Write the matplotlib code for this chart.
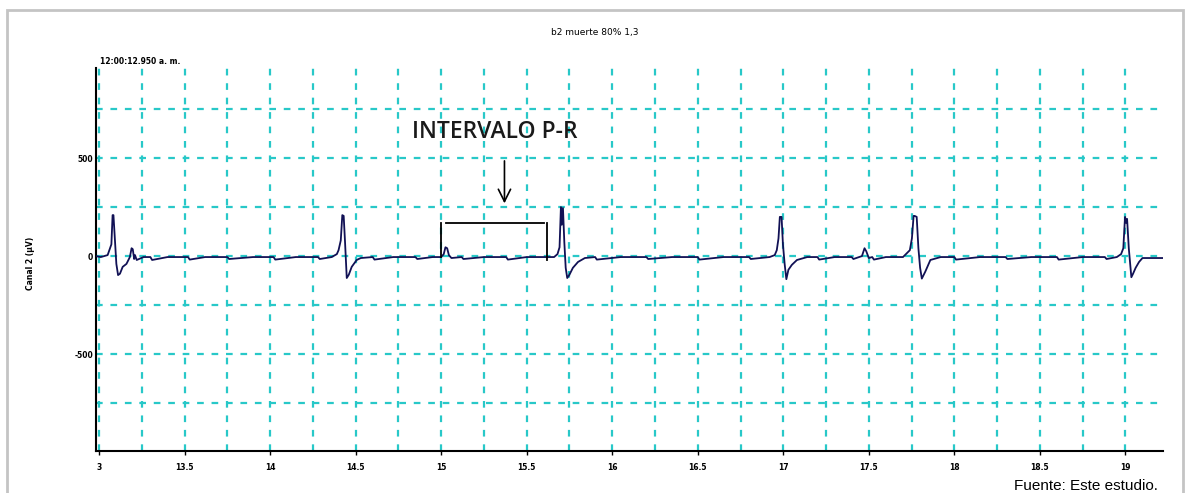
import numpy as np
import matplotlib
matplotlib.use("Agg")
import matplotlib.pyplot as plt
from matplotlib.patches import Rectangle

# ECG trace (time s, microvolts)
t = [12.98, 13.01, 13.03, 13.05, 13.06, 13.072, 13.079, 13.084, 13.092, 13.101,
     13.111, 13.122, 13.138, 13.16, 13.18, 13.19, 13.197, 13.205, 13.21, 13.22,
     13.26, 13.30, 13.31, 13.40, 13.52, 13.53, 13.62, 13.75, 13.76, 13.90, 14.02,
     14.03, 14.15, 14.28, 14.29, 14.36, 14.39, 14.40, 14.413, 14.422, 14.43, 14.438,
     14.448, 14.46, 14.477, 14.506, 14.53, 14.60, 14.61, 14.72, 14.85, 14.86, 14.95,
     15.00, 15.015, 15.025, 15.035, 15.045, 15.06, 15.12, 15.13, 15.25, 15.38, 15.39,
     15.50, 15.62, 15.66, 15.68, 15.692, 15.70, 15.705, 15.712, 15.72, 15.728, 15.737,
     15.75, 15.77, 15.80, 15.84, 15.90, 15.91, 16.05, 16.20, 16.21, 16.35, 16.50,
     16.51, 16.65, 16.80, 16.81, 16.92, 16.95, 16.962, 16.972, 16.98, 16.99, 16.998,
     17.008, 17.018, 17.03, 17.05, 17.08, 17.14, 17.20, 17.21, 17.30, 17.40, 17.41,
     17.46, 17.475, 17.485, 17.50, 17.52, 17.53, 17.60, 17.70, 17.74, 17.752, 17.762,
     17.768, 17.78, 17.79, 17.80, 17.81, 17.83, 17.86, 17.92, 18.00, 18.01, 18.15,
     18.30, 18.31, 18.45, 18.60, 18.61, 18.75, 18.88, 18.89, 18.95, 18.975, 18.988,
     18.998, 19.004, 19.01, 19.02, 19.035, 19.045, 19.06, 19.08, 19.10, 19.15, 19.22]
uv = [0, -5, 0, 5, 30, 60, 209, 209, 90, -40,
      -97, -90, -55, -40, -5, 40, 35, -15, 5, -20,
      -5, -5, -20, -5, -5, -18, -5, -5, -15, -5, -5,
      -18, -5, -5, -15, -5, 10, 30, 80, 209, 205, 70,
      -112, -95, -55, -20, -10, -5, -18, -5, -5, -15, -5,
      -5, 10, 45, 40, 5, -10, -5, -15, -5, -5, -18,
      -5, -5, -5, 10, 45, 250, 160, 245, 70, -60, -112,
      -95, -60, -30, -10, -5, -18, -5, -5, -15, -5, -5,
      -18, -5, -5, -15, -5, 5, 30, 90, 200, 200, 60,
      -40, -118, -70, -45, -20, -5, -5, -18, -5, -5, -15,
      0, 40, 25, -10, -5, -18, -5, -5, 30, 90, 205,
      205, 200, 40, -60, -115, -80, -20, -5, -5, -18, -5,
      -5, -15, -5, -5, -18, -5, -5, -15, -5, 10, 40,
      200, 170, 190, 40, -108, -90, -60, -30, -10, -10, -10]

xticks = [13, 13.5, 14, 14.5, 15, 15.5, 16, 16.5, 17, 17.5, 18, 18.5, 19]
xticklabels = ["3", "13.5", "14", "14.5", "15", "15.5", "16", "16.5", "17", "17.5", "18", "18.5", "19"]
yticks = [-500, 0, 500]
yticklabels = ["-500", "0", "500"]

# annotation of the P-R interval
pr_start, pr_end = 15.0, 15.62
pr_top = 170
arrow_x, arrow_y0, arrow_y1 = 15.37, 500, 255

fig = plt.figure(figsize=(11.89, 4.93), dpi=100)
fig.patches.append(Rectangle((7 / 1189, -0.1), 1176 / 1189, 1.1 - 10 / 493,
                             transform=fig.transFigure, fill=False,
                             edgecolor="#c4c4c4", linewidth=2))

ax = fig.add_axes([96 / 1189, 1 - 451 / 493, (1163 - 96) / 1189, (451 - 68) / 493])
ax.set_xlim(12.982, 19.22)
ax.set_ylim(-995, 960)

grid_col = "#28c8c8"
for gx in np.arange(13, 19.3, 0.25):
    ax.axvline(gx, color=grid_col, lw=1.6, ls=(0, (3, 3.5)), zorder=1)
for gy in np.arange(-750, 960, 250):
    ax.axhline(gy, color=grid_col, lw=1.6, ls=(0, (3, 3.5)), zorder=1)

ax.plot(t, uv, color="#111155", lw=1.3, zorder=3)

ax.plot([pr_start, pr_start], [-5, pr_top], color="black", lw=1.3, zorder=4)
ax.plot([pr_end, pr_end], [-20, pr_top], color="black", lw=1.3, zorder=4)
ax.plot([pr_start + 0.03, pr_end - 0.02], [pr_top, pr_top], color="black", lw=1.3, zorder=4)
ax.annotate("", xy=(arrow_x, arrow_y1), xytext=(arrow_x, arrow_y0),
            arrowprops=dict(arrowstyle="->", color="black", lw=1.2,
                            mutation_scale=22), zorder=4)
ax.text(15.316, 633, "INTERVALO P-R", fontsize=16.5, family="Open Sans",
        fontweight="semibold", ha="center", va="center", color="#1a1a1a")

ax.set_xticks(xticks)
ax.set_xticklabels(xticklabels, fontsize=5.5, fontweight="bold")
ax.set_yticks(yticks)
ax.set_yticklabels(yticklabels, fontsize=5.5, fontweight="bold")
ax.tick_params(axis="x", length=3, width=1, pad=6)
ax.tick_params(axis="y", length=0, pad=2)
for s in ["top", "right"]:
    ax.spines[s].set_visible(False)
for s in ["left", "bottom"]:
    ax.spines[s].set_linewidth(1.5)

ax.set_ylabel("Canal 2 (µV)", fontsize=5.5, fontweight="bold")
ax.yaxis.set_label_coords((35 - 96) / 1067, 0.49)

fig.text(595 / 1189, 1 - 33 / 493, "b2 muerte 80% 1,3", fontsize=6.5,
         ha="center", va="center")
fig.text(100 / 1189, 1 - 61 / 493, "12:00:12.950 a. m.", fontsize=5.5,
         fontweight="bold", ha="left", va="center")
fig.text(1158 / 1189, 1 - 486 / 493, "Fuente: Este estudio.", fontsize=11,
         family="Liberation Sans", ha="right", va="center")

fig.savefig("out.png", dpi=100)
